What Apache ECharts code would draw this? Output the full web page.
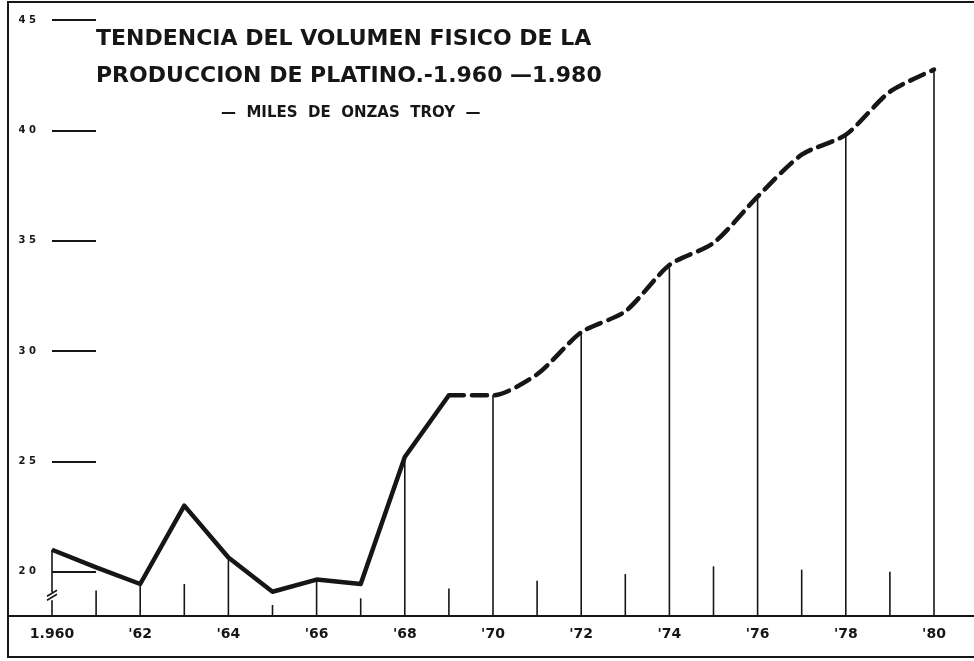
<!DOCTYPE html>
<html><head><meta charset="utf-8">
<script src="https://cdn.jsdelivr.net/npm/echarts@6/dist/echarts.min.js"></script>
<style>html,body{margin:0;padding:0;background:#fff}#c{width:974px;height:661px}</style>
</head><body><div id="c"></div>
<script>
// Data (miles de onzas troy)
const years = [1960,1961,1962,1963,1964,1965,1966,1967,1968,1969,1970,1971,1972,1973,1974,1975,1976,1977,1978,1979,1980];
const production = [21.0,20.2,19.45,23.0,20.65,19.1,19.65,19.45,25.2,28.0,28.0,28.95,30.85,31.8,33.9,34.9,37.0,38.9,39.8,41.75,42.75];
const solidEndYear = 1969;      // solid line up to here, dashed afterwards
const oddTickYears = [1961,1963,1965,1967,1969,1971,1973,1975,1977,1979];
const oddTickHeights = [19.15,19.45,18.5,18.8,19.25,19.6,19.9,20.25,20.1,20.0];
const yTicks = [20,25,30,35,40,45];
const xTicks = [1960,1962,1964,1966,1968,1970,1972,1974,1976,1978,1980];
const yMin = 18, yMax = 45;

const solidData = [], dashedData = [], dropData = [];
years.forEach((y,i)=>{
  if (y <= solidEndYear) solidData.push([y, production[i]]);
  if (y >= solidEndYear) dashedData.push([y, production[i]]);
  if (y % 2 === 0) dropData.push([y, production[i]]);
});
oddTickYears.forEach((y,i)=>dropData.push([y, oddTickHeights[i]]));

const ink = '#161616';
const chart = echarts.init(document.getElementById('c'));
chart.setOption({
  backgroundColor:'#fff',
  animation:false,
  title:[
    {text:'TENDENCIA DEL VOLUMEN FISICO DE LA\nPRODUCCION DE PLATINO.-1.960 —1.980', left:91, top:16,
     textStyle:{fontFamily:'DejaVu Sans', fontWeight:'bold', fontSize:22, color:ink, lineHeight:37}},
    {text:'—  MILES  DE  ONZAS  TROY  —', left:216, top:101,
     textStyle:{fontFamily:'DejaVu Sans', fontWeight:'bold', fontSize:15, color:ink}}
  ],
  grid:{left:52, right:40, top:20, bottom:45},
  xAxis:{type:'value', min:1960, max:1980, interval:2,
    axisLine:{show:false}, axisTick:{show:false}, splitLine:{show:false},
    axisLabel:{margin:11, color:ink, fontFamily:'DejaVu Sans', fontWeight:'bold', fontSize:14,
      customValues:xTicks,
      formatter:v=> v===1960 ? '1.960' : "'" + String(v).slice(2)}},
  yAxis:{type:'value', min:yMin, max:yMax,
    axisLine:{show:false}, splitLine:{show:false},
    axisTick:{show:true, inside:true, length:44, customValues:yTicks, lineStyle:{color:ink, width:2}},
    axisLabel:{margin:16, color:ink, fontFamily:'DejaVu Sans', fontWeight:'bold', fontSize:10,
      customValues:yTicks, formatter:v=>String(v).split('').join(' ')}},
  graphic:[
    {type:'rect', shape:{x:8, y:2, width:980, height:655}, style:{fill:'none', stroke:ink, lineWidth:2}, silent:true},
    {type:'line', shape:{x1:8, y1:616, x2:974, y2:616}, style:{stroke:ink, lineWidth:2}, silent:true}
  ],
  series:[
    {type:'custom', data:dropData, clip:false,
     renderItem:(params, api)=>{
       const x = api.value(0), v = api.value(1);
       const p1 = api.coord([x, v]), p0 = api.coord([x, yMin]);
       const children = [{type:'line', shape:{x1:p1[0], y1:p1[1], x2:p0[0], y2:p0[1]}, style:{stroke:ink, lineWidth:1.6}}];
       if (x === 1960) {
         const b = api.coord([x, 18.85]);
         children.push({type:'rect', shape:{x:b[0]-5, y:b[1]-5, width:10, height:8}, style:{fill:'#fff'}});
         children.push({type:'line', shape:{x1:b[0]-5, y1:b[1]-1, x2:b[0]+5, y2:b[1]-7}, style:{stroke:ink, lineWidth:1.5}});
         children.push({type:'line', shape:{x1:b[0]-5, y1:b[1]+3, x2:b[0]+5, y2:b[1]-3}, style:{stroke:ink, lineWidth:1.5}});
       }
       return {type:'group', children};
     }},
    {type:'line', data:solidData, symbol:'none', lineStyle:{color:ink, width:4.5, join:'round'}, z:5},
    {type:'line', data:dashedData, symbol:'none', smooth:0.25, lineStyle:{color:ink, width:4.5, type:[15,8], cap:'round'}, z:5}
  ]
});
</script></body></html>
